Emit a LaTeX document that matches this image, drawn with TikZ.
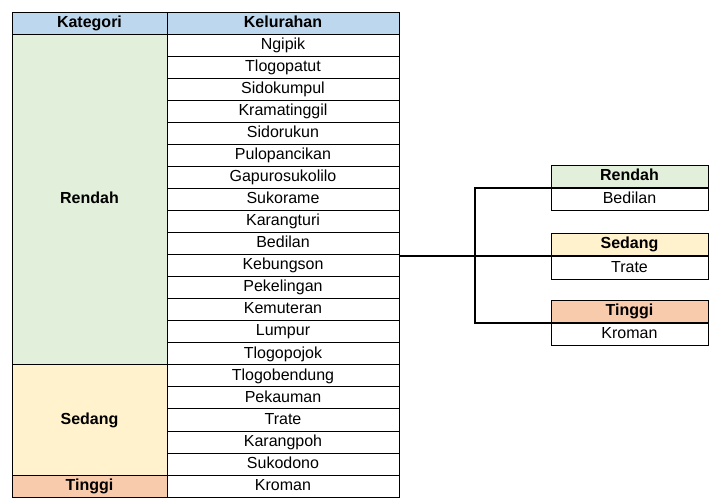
\documentclass[tikz,border=0pt]{standalone}
\usepackage{fontspec}
\setmainfont{Liberation Sans}
\usepackage{tikz}
\usetikzlibrary{positioning}

\definecolor{hdblue}{RGB}{189,215,238}
\definecolor{rendahgreen}{RGB}{226,239,218}
\definecolor{sedangyellow}{RGB}{255,242,204}
\definecolor{tinggiorange}{RGB}{248,203,173}

\begin{document}
\begin{tikzpicture}[x=1pt, y=-1pt,
  txt/.style={font=\fontsize{16}{18}\selectfont},
  boldtxt/.style={font=\fontsize{16}{18}\selectfont\bfseries},
  cell/.style={draw, line width=0.9pt, inner sep=0pt, text height=11.5pt, text depth=3pt, txt},
  katcell/.style={cell, boldtxt, minimum width=155pt},
  kelcell/.style={cell, minimum width=232pt, minimum height=22.05pt},
  sidecell/.style={cell, minimum width=157pt, minimum height=22.3pt},
  link/.style={draw, line width=2pt}]
  \useasboundingbox (0,0) rectangle (709,498);
  % table
  \node [katcell, fill=hdblue, minimum height=22.05pt] (katHd) at (89.5,23.03) {Kategori};
  \node [cell, boldtxt, fill=hdblue, minimum width=232pt, minimum height=22.05pt] (kelHd) at (283,23.03) {Kelurahan};
  \foreach \nama [count=\i] in {Ngipik, Tlogopatut, Sidokumpul, Kramatinggil, Sidorukun,
      Pulopancikan, Gapurosukolilo, Sukorame, Karangturi, Bedilan, Kebungson,
      Pekelingan, Kemuteran, Lumpur, Tlogopojok, Tlogobendung, Pekauman, Trate,
      Karangpoh, Sukodono, Kroman}
    \node [kelcell] (kel\i) at (283,{12+\i*22.05+11.03}) {\nama};
  \node [katcell, fill=rendahgreen, minimum height=330.75pt] (katRendah) at (89.5,199.4) {Rendah};
  \node [katcell, fill=sedangyellow, minimum height=110.25pt] (katSedang) at (89.5,420.0) {Sedang};
  \node [katcell, fill=tinggiorange, minimum height=22.05pt] (katTinggi) at (89.5,486.1) {Tinggi};
  % result boxes
  \node [sidecell, boldtxt, fill=rendahgreen] (rendahHd) at (629.5,176.5) {Rendah};
  \node [sidecell, below=0pt of rendahHd] (rendahIsi) {Bedilan};
  \node [sidecell, boldtxt, fill=sedangyellow] (sedangHd) at (629.5,244.6) {Sedang};
  \node [sidecell, below=0pt of sedangHd] (sedangIsi) {Trate};
  \node [sidecell, boldtxt, fill=tinggiorange] (tinggiHd) at (629.5,311.2) {Tinggi};
  \node [sidecell, below=0pt of tinggiHd] (tinggiIsi) {Kroman};
  % connectors
  \coordinate (cabang) at (475,256);
  \draw [link] (sedangHd.south west) -- (sedangHd.south west -| kel10.east);
  \draw [link] (rendahHd.south west) -| (cabang |- tinggiHd.south west) -- (tinggiHd.south west);
\end{tikzpicture}
\end{document}
